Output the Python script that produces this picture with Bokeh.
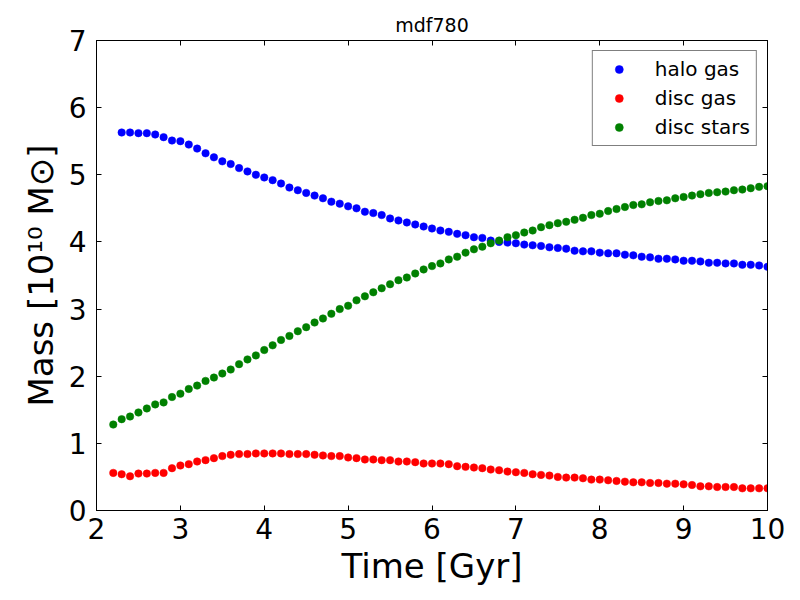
from bokeh.plotting import figure
from bokeh.models import Range1d, LinearAxis, SingleIntervalTicker, Legend, LegendItem
from bokeh.embed import file_html
from bokeh.resources import INLINE

# ---- data ----
time_gyr = [2.2, 2.3, 2.4, 2.5, 2.6, 2.7, 2.8, 2.9, 3.0, 3.1,
            3.2, 3.3, 3.4, 3.5, 3.6, 3.7, 3.8, 3.9, 4.0, 4.1,
            4.2, 4.3, 4.4, 4.5, 4.6, 4.7, 4.8, 4.9, 5.0, 5.1,
            5.2, 5.3, 5.4, 5.5, 5.6, 5.7, 5.8, 5.9, 6.0, 6.1,
            6.2, 6.3, 6.4, 6.5, 6.6, 6.7, 6.8, 6.9, 7.0, 7.1,
            7.2, 7.3, 7.4, 7.5, 7.6, 7.7, 7.8, 7.9, 8.0, 8.1,
            8.2, 8.3, 8.4, 8.5, 8.6, 8.7, 8.8, 8.9, 9.0, 9.1,
            9.2, 9.3, 9.4, 9.5, 9.6, 9.7, 9.8, 9.9, 10.0]

halo_time = time_gyr[1:]
halo_gas = [5.63, 5.63, 5.62, 5.62, 5.60, 5.56, 5.51, 5.50, 5.45,
            5.39, 5.32, 5.26, 5.20, 5.16, 5.10, 5.05, 5.00, 4.96, 4.92,
            4.87, 4.81, 4.77, 4.73, 4.69, 4.65, 4.60, 4.57, 4.53, 4.50,
            4.45, 4.43, 4.40, 4.35, 4.32, 4.29, 4.26, 4.23, 4.20, 4.17,
            4.15, 4.12, 4.10, 4.07, 4.06, 4.02, 4.00, 3.99, 3.98, 3.96,
            3.95, 3.94, 3.92, 3.91, 3.90, 3.87, 3.86, 3.86, 3.84, 3.83,
            3.83, 3.81, 3.80, 3.78, 3.77, 3.75, 3.75, 3.74, 3.72, 3.72,
            3.71, 3.69, 3.69, 3.68, 3.68, 3.66, 3.66, 3.65, 3.63]

disc_gas = [0.56, 0.54, 0.51, 0.55, 0.55, 0.56, 0.56, 0.63, 0.67, 0.69,
            0.73, 0.75, 0.78, 0.81, 0.83, 0.84, 0.84, 0.85, 0.85, 0.85,
            0.85, 0.84, 0.84, 0.84, 0.83, 0.82, 0.81, 0.81, 0.79, 0.78,
            0.76, 0.76, 0.75, 0.75, 0.73, 0.73, 0.72, 0.70, 0.70, 0.70,
            0.69, 0.66, 0.65, 0.64, 0.63, 0.61, 0.60, 0.58, 0.57, 0.56,
            0.54, 0.53, 0.52, 0.50, 0.49, 0.49, 0.48, 0.46, 0.46, 0.45,
            0.44, 0.43, 0.42, 0.42, 0.41, 0.41, 0.40, 0.40, 0.39, 0.38,
            0.36, 0.36, 0.35, 0.35, 0.35, 0.33, 0.33, 0.33, 0.33]

disc_stars = [1.28, 1.36, 1.40, 1.46, 1.52, 1.58, 1.61, 1.69, 1.74, 1.81,
              1.86, 1.93, 1.98, 2.04, 2.10, 2.18, 2.25, 2.31, 2.39, 2.46,
              2.54, 2.60, 2.67, 2.73, 2.80, 2.86, 2.93, 3.00, 3.05, 3.13,
              3.19, 3.25, 3.31, 3.37, 3.43, 3.47, 3.53, 3.59, 3.64, 3.68,
              3.74, 3.78, 3.84, 3.89, 3.93, 3.98, 4.02, 4.07, 4.10, 4.14,
              4.17, 4.22, 4.25, 4.28, 4.30, 4.33, 4.36, 4.40, 4.42, 4.46,
              4.49, 4.52, 4.55, 4.56, 4.59, 4.61, 4.62, 4.65, 4.67, 4.69,
              4.71, 4.73, 4.74, 4.75, 4.77, 4.78, 4.80, 4.82, 4.83]

series_names = ["halo gas", "disc gas", "disc stars"]
series_colors = ["#0000ff", "#ff0000", "#008000"]

FONT = "DejaVu Sans"

p = figure(width=800, height=600, output_backend="svg", toolbar_location=None,
           x_range=Range1d(2, 10), y_range=Range1d(0, 7),
           min_border_left=96, min_border_right=33, min_border_top=40, min_border_bottom=90,
           title="mdf780")
p.title.text_font = FONT
p.title.text_font_size = "19px"
p.title.text_font_style = "normal"
p.title.text_color = "black"
p.title.align = "center"
p.title.standoff = 2
p.grid.visible = False
p.outline_line_color = "black"
p.outline_line_width = 1
p.background_fill_color = "white"
p.border_fill_color = "white"

renderers = []
for xs, ys, c in [(halo_time, halo_gas, series_colors[0]),
                  (time_gyr, disc_gas, series_colors[1]),
                  (time_gyr, disc_stars, series_colors[2])]:
    r = p.scatter(xs, ys, size=7.5, fill_color=c, line_color=c, line_width=0.5)
    renderers.append(r)

def style_axis(ax, labels=True):
    ax.ticker = SingleIntervalTicker(interval=1)
    ax.major_tick_in = 5
    ax.major_tick_out = 0
    ax.minor_tick_line_color = None
    ax.axis_line_color = "black"
    ax.major_tick_line_color = "black"
    ax.major_label_text_font = FONT
    if labels:
        ax.major_label_text_font_size = "28px"
        ax.major_label_text_color = "black"
    else:
        ax.major_label_text_font_size = "1px"
        ax.major_label_text_color = None
        ax.major_label_standoff = 0

xa = p.xaxis[0]
ya = p.yaxis[0]
style_axis(xa)
style_axis(ya)
xa.major_label_standoff = 3
ya.major_label_standoff = 6
xa.axis_label = "Time [Gyr]"
ya.axis_label = "Mass [10\u00b9\u2070 M\u2299]"
for ax in (xa, ya):
    ax.axis_label_text_font = FONT
    ax.axis_label_text_font_size = "34px"
    ax.axis_label_text_font_style = "normal"
    ax.axis_label_text_color = "black"
xa.axis_label_standoff = 4
ya.axis_label_standoff = 5

top_ax = LinearAxis()
style_axis(top_ax, labels=False)
p.add_layout(top_ax, "above")
right_ax = LinearAxis()
style_axis(right_ax, labels=False)
p.add_layout(right_ax, "right")

legend = Legend(items=[LegendItem(label=n, renderers=[r]) for n, r in zip(series_names, renderers)],
                location="top_right")
legend.label_text_font = FONT
legend.label_text_font_size = "20px"
legend.label_text_color = "black"
legend.border_line_color = "black"
legend.border_line_width = 1
legend.background_fill_alpha = 1
legend.glyph_width = 40
legend.glyph_height = 20
legend.label_standoff = 16
legend.label_height = 20
legend.spacing = 5
legend.padding = 6
legend.margin = 10
p.add_layout(legend, "center")

open("out.html", "w").write(file_html(p, INLINE))
